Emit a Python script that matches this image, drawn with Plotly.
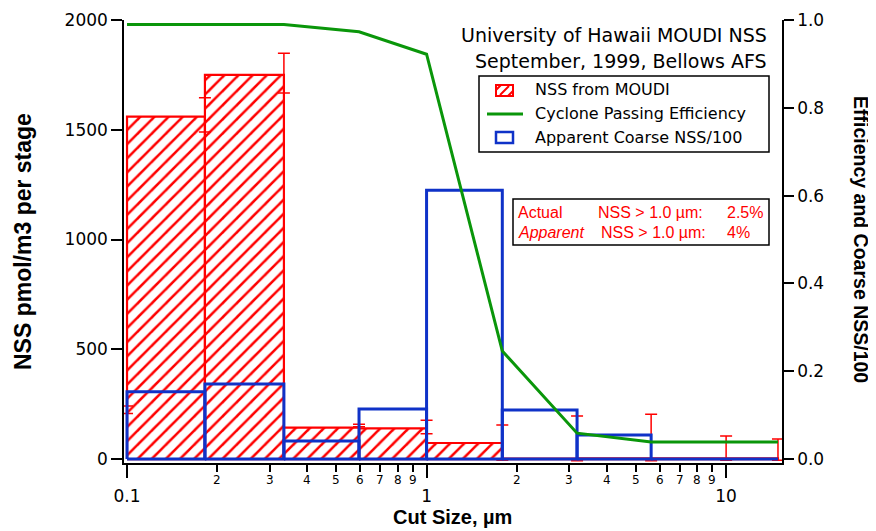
import numpy as np
import plotly.graph_objects as go

# ---------------- data ----------------
bin_edges = [0.1, 0.182, 0.334, 0.595, 1.0, 1.79, 3.18, 5.62, 14.9]
nss_moudi = [1560, 1750, 143, 140, 73, 2, 3, 3]                    # left axis
apparent_coarse = [0.153, 0.171, 0.041, 0.114, 0.612, 0.112, 0.055, 0.0]  # right axis
eff_x = [0.1, 0.334, 0.595, 1.0, 1.79, 3.18, 5.62, 14.9]
eff_y = [0.99, 0.99, 0.973, 0.922, 0.246, 0.059, 0.039, 0.039]
err_x = [0.1, 0.182, 0.334, 0.595, 1.0, 1.79, 3.18, 5.62, 10.0, 14.9]
err_center = [225, 1568, 1758, 153, 146, 75, 94, 98, 50, 43]
err_half = [17, 78, 90, 6, 31, 80, 102, 106, 55, 48]
minor_tick_vals = [0.2, 0.3, 0.4, 0.5, 0.6, 0.7, 0.8, 0.9, 2, 3, 4, 5, 6, 7, 8, 9]
minor_tick_labels = ['2', '3', '4', '5', '6', '7', '8', '9', '2', '3', '4', '5', '6', '7', '8', '9']

RED = '#ff0000'
BLUE = '#0f32c8'
GREEN = '#0a960a'

OFF = 8                     # default page body margin
W, H = 876 - OFF, 531 - OFF
L, R, T, B = 124, 782, 20, 463  # plot area in page pixels


def px(x):
    return (x - L) / (R - L)


def py(y):
    return (B - y) / (B - T)


fig = go.Figure()

# red hatched bars
for i, v in enumerate(nss_moudi):
    x0, x1 = bin_edges[i], bin_edges[i + 1]
    fig.add_trace(go.Scatter(
        x=[x0, x0, x1, x1, x0], y=[0, v, v, 0, 0], mode='lines',
        fill='toself', fillcolor='rgba(255,255,255,0)',
        fillpattern=dict(shape='/', fgcolor=RED, fgopacity=1, bgcolor='rgba(255,255,255,0)',
                         size=10, solidity=0.25),
        line=dict(color=RED, width=2.2), showlegend=False, hoverinfo='skip'))

# error bars
fig.add_trace(go.Scatter(
    x=err_x, y=err_center, mode='markers',
    marker=dict(size=1, color='rgba(0,0,0,0)'),
    error_y=dict(type='data', array=err_half, visible=True, color=RED, thickness=1.5, width=6),
    showlegend=False, hoverinfo='skip'))

# blue outline bars (right axis)
for i, v in enumerate(apparent_coarse):
    x0, x1 = bin_edges[i], bin_edges[i + 1]
    fig.add_trace(go.Scatter(
        x=[x0, x0, x1, x1, x0], y=[0, v, v, 0, 0], mode='lines', yaxis='y2',
        line=dict(color=BLUE, width=3), showlegend=False, hoverinfo='skip'))

# green efficiency line (right axis)
fig.add_trace(go.Scatter(x=eff_x, y=eff_y, mode='lines', yaxis='y2',
                         line=dict(color=GREEN, width=3), showlegend=False))

tickfont = dict(family='DejaVu Sans', size=17, color='black')

fig.update_layout(
    width=W, height=H,
    margin=dict(l=L - OFF, r=W - (R - OFF), t=T - OFF, b=H - (B - OFF), pad=0),
    plot_bgcolor='white', paper_bgcolor='white',
    showlegend=False,
    xaxis=dict(type='log', range=[-1.0101, 1.1866], showline=True, linecolor='black', linewidth=1.5,
               ticks='outside', ticklen=13, tickwidth=1.5, tickcolor='black',
               tickvals=[0.1, 1, 10], ticktext=['0.1', '1', '10'], tickfont=tickfont,
               ticklabelstandoff=4,
               showgrid=False, zeroline=False, automargin=False,
               minor=dict(tickvals=minor_tick_vals, ticks='outside', ticklen=7, tickwidth=1.5,
                          tickcolor='black', showgrid=False)),
    yaxis=dict(range=[-18, 2000], tickvals=[0, 500, 1000, 1500, 2000], showline=True,
               linecolor='black', linewidth=1.5, ticks='outside', ticklen=11, tickwidth=1.5,
               tickcolor='black', tickfont=tickfont, showgrid=False, zeroline=False, automargin=False),
    yaxis2=dict(range=[-0.009, 1.0], overlaying='y', side='right',
                tickvals=[0, 0.2, 0.4, 0.6, 0.8, 1.0], ticktext=['0.0', '0.2', '0.4', '0.6', '0.8', '1.0'],
                showline=True, linecolor='black', linewidth=1.5, ticks='outside', ticklen=10,
                tickwidth=1.5, tickcolor='black', tickfont=tickfont, showgrid=False, zeroline=False,
                automargin=False),
)

ann = []
# minor tick labels
for v, t in zip(minor_tick_vals, minor_tick_labels):
    ann.append(dict(x=np.log10(v), y=py(480), xref='x', yref='paper', text=t, showarrow=False,
                    xanchor='center', yanchor='middle', font=dict(family='DejaVu Sans', size=12, color='black')))

# axis titles
ann.append(dict(x=px(23), y=py(242), xref='paper', yref='paper', text='<b>NSS pmol/m3 per stage</b>',
                textangle=-90, showarrow=False, xanchor='center', yanchor='middle',
                font=dict(family='Liberation Sans', size=23, color='black')))
ann.append(dict(x=px(861), y=py(239), xref='paper', yref='paper', text='<b>Efficiency and Coarse NSS/100</b>',
                textangle=90, showarrow=False, xanchor='center', yanchor='middle',
                font=dict(family='Liberation Sans', size=19.5, color='black')))
ann.append(dict(x=px(452), y=py(517), xref='paper', yref='paper', text='<b>Cut Size, µm</b>',
                showarrow=False, xanchor='center', yanchor='middle',
                font=dict(family='Liberation Sans', size=20, color='black')))

# chart title
tfont = dict(family='DejaVu Sans', size=19, color='black')
ann.append(dict(x=px(769), y=py(35), xref='paper', yref='paper', text='University of Hawaii MOUDI NSS',
                showarrow=False, xanchor='right', yanchor='middle', font=tfont))
ann.append(dict(x=px(769), y=py(61), xref='paper', yref='paper', text='September, 1999, Bellows AFS',
                showarrow=False, xanchor='right', yanchor='middle', font=tfont))

# legend text
lfont = dict(family='DejaVu Sans', size=16, color='black')
for yy, t in [(90, 'NSS from MOUDI'), (114, 'Cyclone Passing Efficiency'), (137, 'Apparent Coarse NSS/100')]:
    ann.append(dict(x=px(533), y=py(yy), xref='paper', yref='paper', text=t, showarrow=False,
                    xanchor='left', yanchor='middle', font=lfont))

# red info box text
rfont = dict(family='Liberation Sans', size=16, color=RED)
ann.append(dict(x=px(516), y=py(212), xref='paper', yref='paper', text='Actual', showarrow=False,
                xanchor='left', yanchor='middle', font=rfont))
ann.append(dict(x=px(596), y=py(212), xref='paper', yref='paper', text='NSS &gt; 1.0 µm:', showarrow=False,
                xanchor='left', yanchor='middle', font=rfont))
ann.append(dict(x=px(765), y=py(212), xref='paper', yref='paper', text='2.5%', showarrow=False,
                xanchor='right', yanchor='middle', font=rfont))
ann.append(dict(x=px(516), y=py(233), xref='paper', yref='paper', text='<i>Apparent</i>', showarrow=False,
                xanchor='left', yanchor='middle', font=rfont))
ann.append(dict(x=px(599), y=py(233), xref='paper', yref='paper', text='NSS &gt; 1.0 µm:', showarrow=False,
                xanchor='left', yanchor='middle', font=rfont))
ann.append(dict(x=px(752), y=py(233), xref='paper', yref='paper', text='4%', showarrow=False,
                xanchor='right', yanchor='middle', font=rfont))
fig.update_layout(annotations=ann)

shapes = []
# legend box
shapes.append(dict(type='rect', xref='paper', yref='paper', x0=px(479), x1=px(769), y0=py(152), y1=py(76),
                   line=dict(color='black', width=1.5), fillcolor='rgba(0,0,0,0)'))
# red info box
shapes.append(dict(type='rect', xref='paper', yref='paper', x0=px(513), x1=px(769), y0=py(245), y1=py(199),
                   line=dict(color='black', width=1.5), fillcolor='rgba(0,0,0,0)'))
# legend swatches
shapes.append(dict(type='rect', xref='paper', yref='paper', x0=px(496), x1=px(513), y0=py(96), y1=py(85),
                   line=dict(color=RED, width=2), fillcolor='white'))
shapes.append(dict(type='line', xref='paper', yref='paper', x0=px(500), x1=px(509), y0=py(95), y1=py(86),
                   line=dict(color=RED, width=2)))
shapes.append(dict(type='line', xref='paper', yref='paper', x0=px(496), x1=px(501), y0=py(90), y1=py(85),
                   line=dict(color=RED, width=2)))
shapes.append(dict(type='line', xref='paper', yref='paper', x0=px(508), x1=px(513), y0=py(96), y1=py(91),
                   line=dict(color=RED, width=2)))
shapes.append(dict(type='line', xref='paper', yref='paper', x0=px(487), x1=px(523), y0=py(114), y1=py(114),
                   line=dict(color=GREEN, width=3)))
shapes.append(dict(type='rect', xref='paper', yref='paper', x0=px(496), x1=px(513), y0=py(143), y1=py(132),
                   line=dict(color=BLUE, width=2.5), fillcolor='rgba(0,0,0,0)'))
fig.update_layout(shapes=shapes)

fig.write_html('out.html')
